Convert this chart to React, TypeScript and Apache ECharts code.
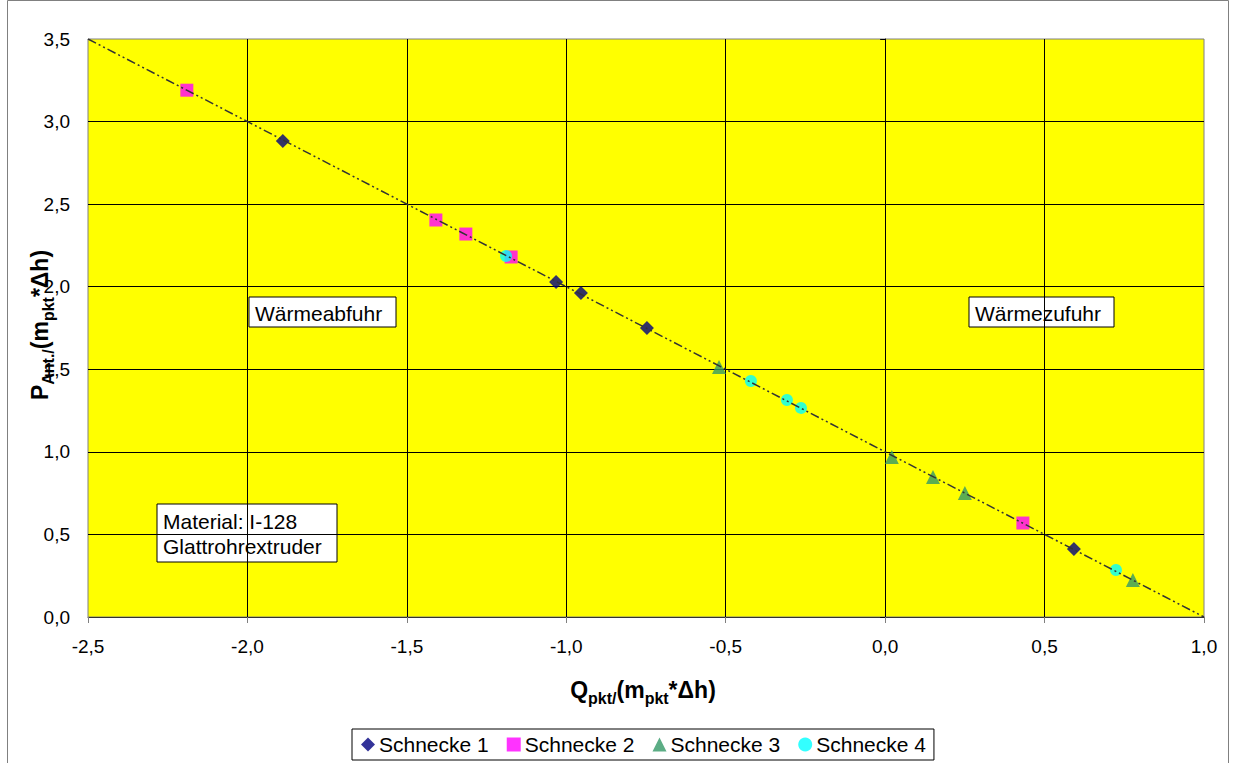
import React, { useEffect, useRef } from "react";
import * as echarts from "echarts";

const seriesNames = ["Schnecke 1", "Schnecke 2", "Schnecke 3", "Schnecke 4"];

const s1X = [-1.889, -1.032, -0.954, -0.747, 0.592];
const s1Y = [2.882, 2.029, 1.962, 1.75, 0.412];

const s2X = [-2.19, -1.409, -1.315, -1.173, 0.432];
const s2Y = [3.19, 2.404, 2.319, 2.18, 0.569];

const s3X = [-0.521, 0.021, 0.15, 0.25, 0.777];
const s3Y = [1.514, 0.969, 0.848, 0.751, 0.224];

const s4X = [-1.189, -0.421, -0.308, -0.264, 0.724];
const s4Y = [2.186, 1.429, 1.314, 1.266, 0.285];

const refLineX = [-2.5, 1.0];
const refLineY = [3.5, 0.0];

const xMin = -2.5;
const xMax = 1.0;
const yMin = 0;
const yMax = 3.5;
const tickStep = 0.5;

const FONT = "'Liberation Sans', Arial, sans-serif";

const zip = (xs: number[], ys: number[]) => xs.map((x, i) => [x, ys[i]]);
const fmt = (v: number) => v.toFixed(1).replace(".", ",");

export default function App() {
  const ref = useRef<HTMLDivElement>(null);

  useEffect(() => {
    if (!ref.current) return;
    const chart = echarts.init(ref.current, null, { renderer: "svg" });

    const richMain = {
      fontSize: 23,
      fontWeight: "bold" as const,
      fontFamily: FONT,
      color: "#000",
      lineHeight: 32,
      verticalAlign: "middle" as const,
    };
    const richSub = {
      fontSize: 16,
      fontWeight: "bold" as const,
      fontFamily: FONT,
      color: "#000",
      lineHeight: 10,
      verticalAlign: "bottom" as const,
    };

    const boxText = (x: number, y: number, w: number, h: number, text: string) => ({
      type: "group",
      x,
      y,
      children: [
        {
          type: "rect",
          shape: { x: 0, y: 0, width: w, height: h },
          style: { fill: "#fff", stroke: "#000", lineWidth: 1 },
        },
        {
          type: "text",
          x: 6,
          y: h / 2 + 1,
          style: {
            text,
            font: "21px 'Liberation Sans', Arial, sans-serif",
            fill: "#000",
            lineHeight: 25,
            align: "left",
            verticalAlign: "middle",
          },
        },
      ],
    });

    chart.setOption({
      animation: false,
      backgroundColor: "#fff",
      grid: {
        left: 88,
        top: 39,
        width: 1116,
        height: 578,
        show: true,
        backgroundColor: "#FFFF00",
        borderColor: "#808080",
        borderWidth: 1,
      },
      legend: {
        data: seriesNames,
        bottom: 3,
        left: 352,
        backgroundColor: "#fff",
        borderColor: "#000",
        borderWidth: 1,
        padding: [5, 8, 5, 9],
        itemGap: 18,
        itemWidth: 14,
        itemHeight: 14,
        textStyle: { fontSize: 21, fontFamily: FONT, color: "#000", padding: [0, 0, 0, -1] },
      },
      xAxis: {
        type: "value",
        min: xMin,
        max: xMax,
        interval: tickStep,
        axisLine: { show: true, lineStyle: { color: "#333", width: 1 } },
        axisTick: { show: true, length: 6, lineStyle: { color: "#808080" } },
        axisLabel: {
          formatter: fmt,
          fontSize: 19,
          fontFamily: FONT,
          color: "#000",
          margin: 20,
        },
        splitLine: {
          show: true,
          showMinLine: false,
          showMaxLine: false,
          lineStyle: { color: "#000", width: 1 },
        },
      },
      yAxis: {
        type: "value",
        min: yMin,
        max: yMax,
        interval: tickStep,
        axisLine: { show: true, onZero: true, lineStyle: { color: "#000", width: 1 } },
        axisTick: { show: true, length: 5, lineStyle: { color: "#000" } },
        axisLabel: {
          formatter: fmt,
          fontSize: 19,
          fontFamily: FONT,
          color: "#000",
          margin: 18,
        },
        splitLine: {
          show: true,
          showMinLine: false,
          showMaxLine: false,
          lineStyle: { color: "#000", width: 1 },
        },
      },
      series: [
        {
          name: "Schnecke 1",
          type: "scatter",
          symbol: "diamond",
          symbolSize: 14,
          itemStyle: { color: "#000080" },
          data: zip(s1X, s1Y),
        },
        {
          name: "Schnecke 2",
          type: "scatter",
          symbol: "rect",
          symbolSize: 13,
          itemStyle: { color: "#FF00FF" },
          data: zip(s2X, s2Y),
        },
        {
          name: "Schnecke 3",
          type: "scatter",
          symbol: "triangle",
          symbolSize: 14,
          itemStyle: { color: "#339966" },
          data: zip(s3X, s3Y),
        },
        {
          name: "Schnecke 4",
          type: "scatter",
          symbol: "circle",
          symbolSize: 12,
          itemStyle: { color: "#00FFFF" },
          data: zip(s4X, s4Y),
        },
        {
          name: "Trend",
          type: "line",
          symbol: "none",
          z: 5,
          lineStyle: { color: "#333", width: 1.5, type: [9, 3, 2, 3, 2, 3] },
          data: zip(refLineX, refLineY),
        },
      ],
      graphic: [
        {
          type: "rect",
          shape: { x: 7.5, y: 0.5, width: 1221, height: 800 },
          style: { fill: "none", stroke: "#808080", lineWidth: 1 },
          silent: true,
        },
        boxText(249, 297, 147, 30, "Wärmeabfuhr"),
        boxText(969, 297, 145, 30, "Wärmezufuhr"),
        boxText(157, 504, 180, 58, "Material: I-128\nGlattrohrextruder"),
        {
          type: "text",
          x: 643,
          y: 690,
          style: {
            text: "{m|Q}{s|pkt/}{m|(m}{s|pkt}{m|*Δh)}",
            rich: { m: richMain, s: richSub },
            align: "center",
            verticalAlign: "middle",
          },
        },
        {
          type: "text",
          x: 40,
          y: 325,
          rotation: Math.PI / 2,
          style: {
            text: "{m|P}{s|Ant./}{m|(m}{s|pkt}{m|*Δh)}",
            rich: { m: richMain, s: richSub },
            align: "center",
            verticalAlign: "middle",
          },
        },
      ],
    });

    return () => chart.dispose();
  }, []);

  return (
    <div
      ref={ref}
      style={{ position: "absolute", left: 0, top: 0, width: 1236, height: 763 }}
    />
  );
}
